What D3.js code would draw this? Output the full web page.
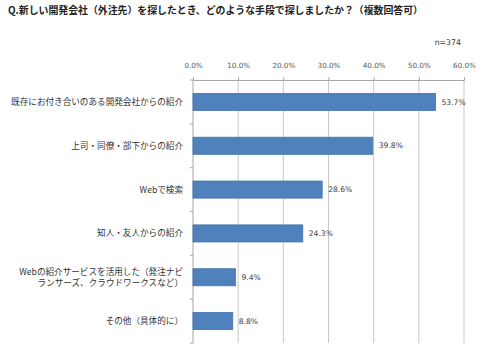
<!DOCTYPE html>
<html>
<head>
<meta charset="utf-8">
<script src="https://cdn.jsdelivr.net/npm/d3@7"></script>
<style>
    body { margin: 0; background: #fff; }
    svg { display: block; }
</style>
</head>
<body>
<svg id="bar-chart"></svg>
<script>
// Chart data
const categories = [
    ["既存にお付き合いのある開発会社からの紹介"],
    ["上司・同僚・部下からの紹介"],
    ["Webで検索"],
    ["知人・友人からの紹介"],
    ["Webの紹介サービスを活用した（発注ナビ", "ランサーズ、クラウドワークスなど）"],
    ["その他（具体的に）"]
];
const values = [53.7, 39.8, 28.6, 24.3, 9.4, 8.8];
const tickValues = [0, 10, 20, 30, 40, 50, 60];
const titleText = "Q.新しい開発会社（外注先）を探したとき、どのような手段で探しましたか？（複数回答可）";
const sampleText = "n=374";

const W = 490, H = 358;
const margin = { top: 80, right: 26, bottom: 15, left: 193 };
const width = W - margin.left - margin.right;
const height = H - margin.top - margin.bottom;

const svg = d3.select("#bar-chart")
    .attr("width", W)
    .attr("height", H);

const jpFont = "'Noto Sans CJK JP', 'Noto Sans', sans-serif";
const numFont = "'DejaVu Sans', Verdana, sans-serif";

// Title
svg.append("text")
    .attr("x", 8)
    .attr("y", 14)
    .attr("font-family", jpFont)
    .attr("font-size", 9.9)
    .attr("font-weight", "bold")
    .attr("fill", "#222")
    .text(titleText);

svg.append("text")
    .attr("x", 461)
    .attr("y", 45)
    .attr("text-anchor", "end")
    .attr("font-family", numFont)
    .attr("font-size", 7.8)
    .attr("fill", "#333")
    .text(sampleText);

const g = svg.append("g")
    .attr("transform", `translate(${margin.left},${margin.top})`);

// Scales
const x = d3.scaleLinear()
    .domain([0, 60])
    .range([0, width]);

const y = d3.scaleBand()
    .domain(d3.range(categories.length))
    .range([0, height])
    .paddingInner(0.61)
    .paddingOuter(0.305);

// gridlines
g.append("g")
    .selectAll("line")
    .data(tickValues.slice(1))
    .join("line")
    .attr("x1", d => x(d))
    .attr("x2", d => x(d))
    .attr("y1", 0)
    .attr("y2", height)
    .attr("stroke", "#c8c8c8")
    .attr("stroke-width", 1);

// top axis
const xAxisGroup = g.append("g")
    .call(d3.axisTop(x).tickValues(tickValues).tickFormat(d => d.toFixed(1) + "%").tickSize(3).tickPadding(9));
xAxisGroup.select(".domain").attr("stroke", "#a6a6a6");
xAxisGroup.selectAll(".tick line").attr("stroke", "#a6a6a6");
xAxisGroup.selectAll("text")
    .attr("font-family", numFont)
    .attr("font-size", 7.2)
    .attr("fill", "#595959");

// left axis (category separators)
const step = y.step();
g.append("line")
    .attr("x1", 0).attr("x2", 0)
    .attr("y1", 0).attr("y2", height)
    .attr("stroke", "#a6a6a6");
g.append("g")
    .selectAll("line")
    .data(d3.range(categories.length + 1))
    .join("line")
    .attr("x1", -3).attr("x2", 0)
    .attr("y1", i => i * step)
    .attr("y2", i => i * step)
    .attr("stroke", "#a6a6a6");

// Bars
g.selectAll(".bar")
    .data(values)
    .join("rect")
    .attr("class", "bar")
    .attr("x", x(0))
    .attr("y", (d, i) => y(i))
    .attr("width", d => x(d) - x(0))
    .attr("height", y.bandwidth())
    .attr("fill", "#4f81bd")
    .attr("stroke", "#4372ad")
    .attr("stroke-width", 0.8);

// Value labels
g.selectAll(".val")
    .data(values)
    .join("text")
    .attr("class", "val")
    .attr("x", d => x(d) + 6)
    .attr("y", (d, i) => y(i) + y.bandwidth() / 2)
    .attr("dy", "0.35em")
    .attr("font-family", numFont)
    .attr("font-size", 7.6)
    .attr("fill", "#404040")
    .text(d => d.toFixed(1) + "%");

// Category labels
g.selectAll(".cat")
    .data(categories)
    .join("text")
    .attr("class", "cat")
    .attr("text-anchor", "end")
    .attr("font-family", jpFont)
    .attr("font-size", 8.6)
    .attr("fill", "#333")
    .attr("transform", (d, i) => `translate(-10,${y(i) + y.bandwidth() / 2})`)
    .each(function (lines) {
        const t = d3.select(this);
        const lh = 11.5;
        lines.forEach((line, k) => {
            t.append("tspan")
                .attr("x", 0)
                .attr("y", (k - (lines.length - 1) / 2) * lh)
                .attr("dy", "0.35em")
                .text(line);
        });
    });
</script>
</body>
</html>
